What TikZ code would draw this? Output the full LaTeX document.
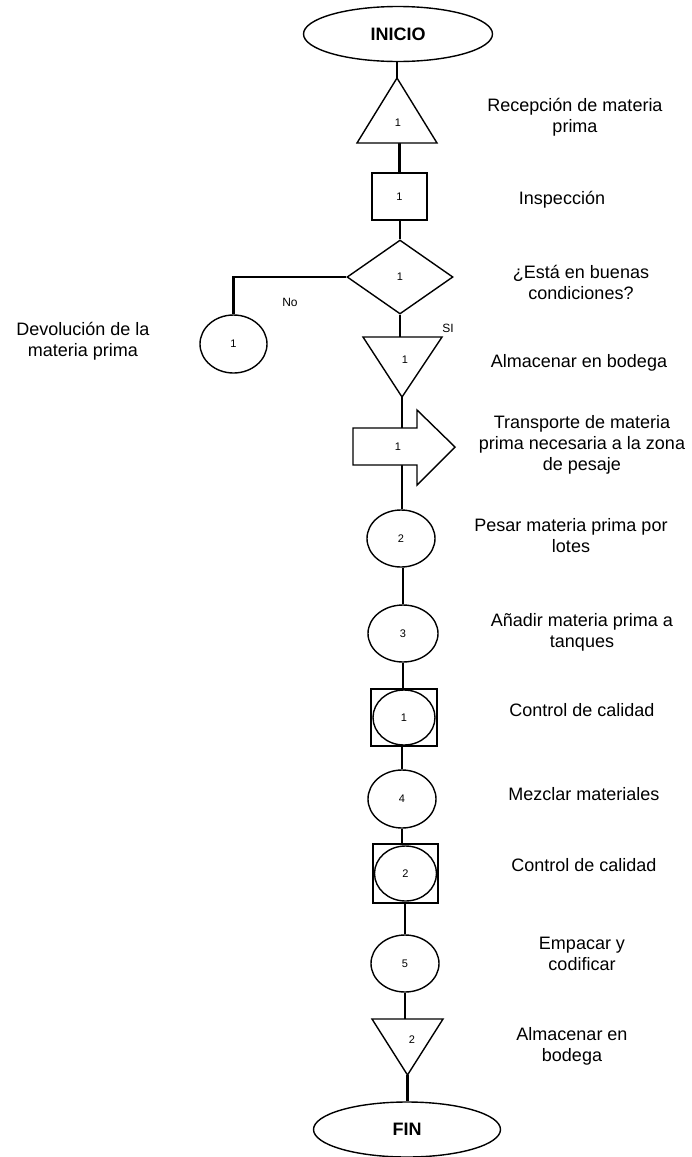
\documentclass[tikz,border=0pt]{standalone}
\usepackage{fontspec}
\setmainfont{Liberation Sans}
\usetikzlibrary{shapes.geometric}
\tikzset{
  flow/.style={line width=2.6pt},
  shp/.style={draw, line width=1.4pt, fill=white, inner sep=0pt},
  oval/.style={shp, ellipse, font=\fontsize{11}{13}\selectfont},
  box/.style={shp, rectangle},
  num/.style={font=\fontsize{11}{13}\selectfont},
  lbl/.style={align=center, font=\fontsize{18}{21}\selectfont},
  yesno/.style={font=\fontsize{12}{14}\selectfont}
}

\begin{document}
\begin{tikzpicture}[x=1pt,y=-1pt]
  \useasboundingbox (0,0) rectangle (692,1157);

  % terminales
  \node[oval, minimum width=189pt, minimum height=55pt, font=\bfseries\fontsize{18}{20}\selectfont] (inicio) at (398,34) {INICIO};
  \node[oval, minimum width=187pt, minimum height=55pt, font=\bfseries\fontsize{18}{20}\selectfont] (fin) at (407,1129.5) {FIN};

  % simbolos del proceso
  \coordinate (recTop) at (397,78);
  \coordinate (recBot) at (397,143);
  \node[box, minimum width=55pt, minimum height=47pt, num] (insp) at (399.5,196.5) {1};
  \node[shp, diamond, minimum width=106pt, minimum height=74pt, num] (dec) at (400,277) {1};
  \node[oval, minimum width=67pt, minimum height=58pt] (dev) at (233.5,344) {1};
  \coordinate (almTop) at (402,337);
  \coordinate (almBot) at (402,397);
  \node[oval, minimum width=68pt, minimum height=57pt] (pes) at (401,538.5) {2};
  \node[oval, minimum width=70pt, minimum height=57pt] (add) at (403,633.5) {3};
  \node[box, minimum width=66pt, minimum height=57pt] (ctlA) at (404,717.5) {};
  \node[oval, minimum width=62pt, minimum height=55pt] (ctlAin) at (ctlA) {1};
  \node[oval, minimum width=68pt, minimum height=58pt] (mez) at (402,799) {4};
  \node[box, minimum width=65pt, minimum height=59pt] (ctlB) at (405.5,873.5) {};
  \node[oval, minimum width=62pt, minimum height=55pt] (ctlBin) at (ctlB) {2};
  \node[oval, minimum width=68pt, minimum height=57pt] (emp) at (405,963.5) {5};
  \coordinate (bodTop) at (407.5,1019);
  \coordinate (bodBot) at (407.5,1075);

  % lineas de flujo
  \draw[flow] (recTop) -- (recTop |- inicio.south);
  \draw[flow] (insp.north) -- (insp.north |- recBot);
  \draw[flow] (dec.north) -- (dec.north |- insp.south);
  \draw[flow] (dec.south) -- (dec.south |- almTop);
  \draw[flow] (dec.west) -| (dev.north);
  \draw[flow] (almBot) -- (almBot |- pes.north);
  \draw[flow] (add.north) -- (add.north |- pes.south);
  \draw[flow] (add.south) -- (add.south |- ctlA.north);
  \draw[flow] (mez.north) -- (mez.north |- ctlA.south);
  \draw[flow] (mez.south) -- (mez.south |- ctlB.north);
  \draw[flow] (emp.north) -- (emp.north |- ctlB.south);
  \draw[flow] (emp.south) -- (emp.south |- bodTop);
  \draw[flow] (bodBot) -- (bodBot |- fin.north);

  % triangulos y flecha
  \draw[shp] (357,143) -- (recTop) -- (437,143) -- cycle;
  \draw[shp] (363,337) -- (442,337) -- (almBot) -- cycle;
  \draw[shp] (372,1019) -- (443,1019) -- (bodBot) -- cycle;
  \draw[shp] (353,428) -- (417,428) -- (417,410) -- (455,447) -- (417,485) -- (417,465) -- (353,465) -- cycle;
  \node[num] (recN) at (398,123) {1};
  \node[num] (almN) at (405,360) {1};
  \node[num] (traN) at (398,447) {1};
  \node[num] (bodN) at (412,1040) {2};

  \node[yesno] (no) at (290,302) {No};
  \node[yesno] (si) at (448,328) {SI};

  % descripciones
  \node[lbl] (lRec) at (575,117.5) {Recepción de materia\\prima};
  \node[lbl] (lInsp) at (562,200) {Inspección};
  \node[lbl] (lDec) at (581,282.5) {¿Está en buenas\\condiciones?};
  \node[lbl] (lDev) at (83,341) {Devolución de la\\materia prima};
  \node[lbl] (lAlm) at (579,363) {Almacenar en bodega};
  \node[lbl] (lTra) at (582,445) {Transporte de materia\\prima necesaria a la zona\\de pesaje};
  \node[lbl] (lPes) at (571,536) {Pesar materia prima por\\lotes};
  \node[lbl] (lAdd) at (582,632) {Añadir materia prima a\\tanques};
  \node[lbl] (lCtlA) at (582,710) {Control de calidad};
  \node[lbl] (lMez) at (584,794) {Mezclar materiales};
  \node[lbl] (lCtlB) at (584,865) {Control de calidad};
  \node[lbl] (lEmp) at (582,954) {Empacar y\\codificar};
  \node[lbl] (lBod) at (572,1046.5) {Almacenar en\\bodega};

\end{tikzpicture}
\end{document}
